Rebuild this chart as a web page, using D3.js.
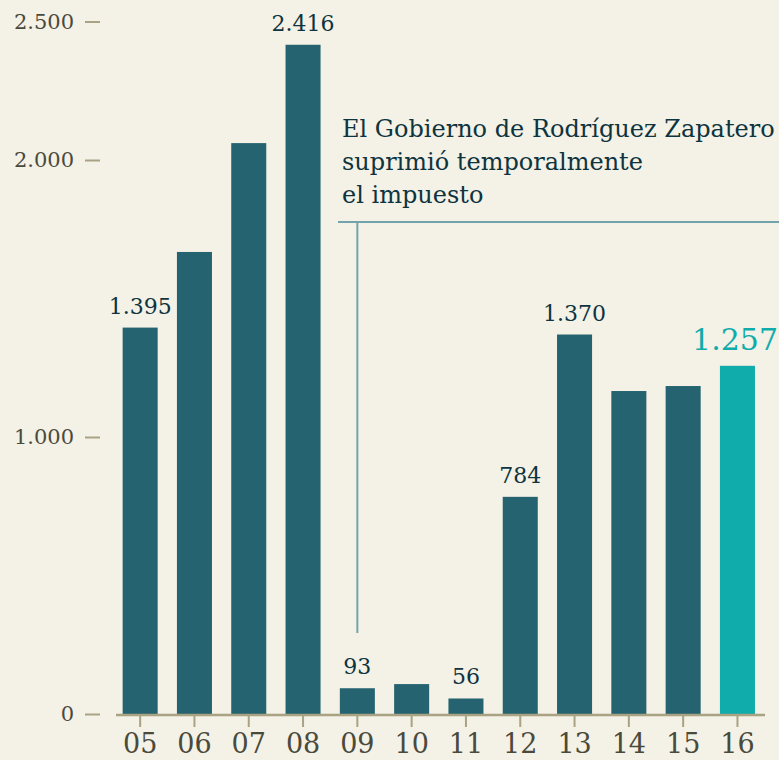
<!DOCTYPE html>
<html>
<head>
<meta charset="utf-8">
<script src="https://cdn.jsdelivr.net/npm/d3@7"></script>
<style>
  html, body { margin: 0; padding: 0; background: #f4f1e6; }
  svg { display: block; font-family: "DejaVu Serif", serif; }
</style>
</head>
<body>
<script>
const years = ['05', '06', '07', '08', '09', '10', '11', '12', '13', '14', '15', '16'];
const values = [1395, 1668, 2061, 2416, 93, 108, 56, 784, 1370, 1166, 1184, 1257];
const shownLabels = ['1.395', null, null, '2.416', '93', null, '56', '784', '1.370', null, null, '1.257'];
const yTicks = [0, 1000, 2000, 2500];
const noteLines = ['El Gobierno de Rodríguez Zapatero', 'suprimió temporalmente', 'el impuesto'];

const width = 779, height = 760;
const barColor = '#24636f', lastColor = '#10acab';
const axisColor = '#a9a384';
const last = years.length - 1;

const svg = d3.select('body').append('svg')
    .attr('width', width)
    .attr('height', height);

// escalas
const x = d3.scaleBand()
    .domain(years)
    .range([113, 764.6])
    .paddingInner(0.355)
    .paddingOuter(0.1775);

const y = d3.scaleLinear()
    .domain([0, 2500])
    .range([714, 21.5]);

// eje y
const yAxis = svg.append('g')
    .attr('transform', 'translate(100,0)')
    .call(d3.axisLeft(y)
        .tickValues(yTicks)
        .tickSize(15)
        .tickPadding(11)
        .tickFormat(d => d3.format(',')(d).replace(/,/g, '.')));
yAxis.select('.domain').remove();
yAxis.selectAll('line').attr('stroke', axisColor).attr('stroke-width', 2);
yAxis.selectAll('text')
    .attr('fill', '#4a4a3c')
    .style('font-size', '21px')
    .style('font-family', '"DejaVu Serif", serif');

// barras
svg.append('g')
    .selectAll('rect')
    .data(values)
    .enter()
    .append('rect')
    .attr('x', (d, i) => x(years[i]))
    .attr('y', d => y(d))
    .attr('width', x.bandwidth())
    .attr('height', d => y(0) - y(d))
    .attr('fill', (d, i) => i === last ? lastColor : barColor);

// eje x
const xAxis = svg.append('g')
    .attr('transform', 'translate(0,' + (y(0) + 1) + ')')
    .call(d3.axisBottom(x)
        .tickSize(12)
        .tickSizeOuter(0)
        .tickPadding(7));
xAxis.select('.domain').attr('stroke', axisColor).attr('stroke-width', 2.5)
    .attr('d', 'M116,0H765');
xAxis.selectAll('line').attr('stroke', axisColor).attr('stroke-width', 2);
xAxis.selectAll('text')
    .attr('fill', '#4a4a3c')
    .style('font-size', '27px')
    .style('font-family', '"DejaVu Serif", serif');

// etiquetas de valor
const labelled = values
    .map((v, i) => ({ year: years[i], value: v, label: shownLabels[i], i: i }))
    .filter(d => d.label !== null);

svg.append('g')
    .selectAll('text')
    .data(labelled)
    .enter()
    .append('text')
    // la última etiqueta se alinea al borde derecho para que no se corte
    .attr('x', d => d.i === last ? width - 1 : x(d.year) + x.bandwidth() / 2)
    .attr('y', d => y(d.value) - (d.i === last ? 16 : 14))
    .attr('text-anchor', d => d.i === last ? 'end' : 'middle')
    .attr('fill', d => d.i === last ? lastColor : '#0e3440')
    .style('font-size', d => d.i === last ? '30px' : '22px')
    .text(d => d.label);

// anotación
const noteX = x('09') + x.bandwidth() / 2;
svg.append('line')
    .attr('x1', 338).attr('x2', width)
    .attr('y1', 222).attr('y2', 222)
    .attr('stroke', '#73a3ad').attr('stroke-width', 2);
svg.append('line')
    .attr('x1', noteX).attr('x2', noteX)
    .attr('y1', 222).attr('y2', 633)
    .attr('stroke', '#73a3ad').attr('stroke-width', 2);

svg.append('g')
    .selectAll('text')
    .data(noteLines)
    .enter()
    .append('text')
    .attr('x', 342)
    .attr('y', (d, i) => 137 + i * 33)
    .attr('fill', '#0e3440')
    .style('font-size', '24px')
    .text(d => d);
</script>
</body>
</html>
